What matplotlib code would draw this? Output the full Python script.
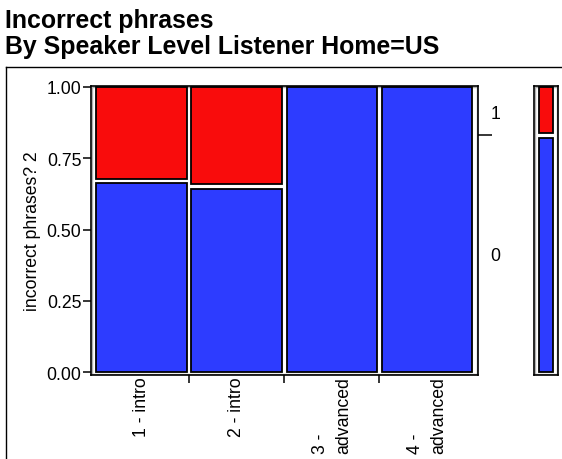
#!/usr/bin/env python3
"""mosaic plot: incorrect phrases by speaker level"""

import matplotlib
matplotlib.use("Agg")
import matplotlib.pyplot as plt
from matplotlib.patches import Rectangle
from matplotlib.lines import Line2D

# data
levels = ["1 - intro", "2 - intro", "3 -\nadvanced", "4 -\nadvanced"]
share_no = [0.67, 0.65, 1.00, 1.00]   # response 0 (blue)
responses = ["0", "1"]

RED = "#F90C0C"
BLUE = "#2D3CFF"
W, H = 562, 460
FS = 12.7


def cell(ax, x0, x1, y0, y1, color):
    ax.add_patch(Rectangle((x0, y0), x1 - x0, y1 - y0, facecolor=color,
                           edgecolor="black", lw=1.3, zorder=3))


def main():
    plt.rcParams["font.family"] = ["Liberation Sans", "DejaVu Sans"]
    fig = plt.figure(figsize=(W / 100, H / 100), dpi=100)

    # main mosaic axes
    ax = fig.add_axes([91 / W, 1 - 376 / H, (478 - 91) / W, (376 - 87) / H])
    ax.set_xlim(-0.008, 1.009)
    ax.set_ylim(-0.0105, 1.0035)

    n = len(levels)
    gx, gy = 0.012, 0.016
    for i, p in enumerate(share_no):
        x0 = i / n + gx / 2
        x1 = (i + 1) / n - gx / 2
        if p >= 1:
            cell(ax, x0, x1, 0, 1, BLUE)
        else:
            cell(ax, x0, x1, 0, p - gy / 2, BLUE)
            cell(ax, x0, x1, p + gy / 2, 1, RED)

    ax.add_patch(Rectangle((0.003, 0.003), 0.994, 0.994, transform=ax.transAxes,
                           fill=False, edgecolor="#b0b0b0", lw=1.0, zorder=2))
    for s in ax.spines.values():
        s.set_linewidth(1.2)

    ax.set_yticks([0, 0.25, 0.5, 0.75, 1.0])
    ax.set_yticklabels(["0.00", "0.25", "0.50", "0.75", "1.00"])
    ax.tick_params(axis="y", direction="out", length=6, width=1.1, labelsize=FS, pad=1)
    ax.set_ylabel("incorrect phrases? 2", fontsize=FS, labelpad=4)

    ax.set_xticks([i / n for i in range(1, n)])
    ax.set_xticklabels([])
    ax.set_xticks([(i + 0.5) / n for i in range(n)], minor=True)
    ax.set_xticklabels(levels, minor=True, rotation=90, va="top", ha="center",
                       multialignment="left", fontsize=FS, linespacing=1.5)
    ax.tick_params(axis="x", which="major", direction="out", length=6, width=1.1)
    ax.tick_params(axis="x", which="minor", length=0, pad=1)

    # marginal split on the right side
    overall = sum(share_no) / n
    ax2 = ax.twinx()
    ax2.set_ylim(ax.get_ylim())
    ax2.set_yticks([overall])
    ax2.set_yticklabels([])
    ax2.set_yticks([overall / 2, (overall + 1) / 2], minor=True)
    ax2.set_yticklabels(responses, minor=True, fontsize=FS)
    ax2.tick_params(axis="y", which="major", direction="out", length=10, width=1.1)
    ax2.tick_params(axis="y", which="minor", length=0, pad=9)
    for s in ax2.spines.values():
        s.set_visible(False)

    # side bar with overall proportions
    axs = fig.add_axes([534 / W, 1 - 376 / H, (558 - 534) / W, (376 - 87) / H])
    axs.set_xlim(0, 1)
    axs.set_ylim(ax.get_ylim())
    cell(axs, 0.22, 0.78, 0, overall - gy / 2, BLUE)
    cell(axs, 0.22, 0.78, overall + gy / 2, 1, RED)
    axs.add_patch(Rectangle((0.05, 0.003), 0.9, 0.994, transform=axs.transAxes,
                            fill=False, edgecolor="#b0b0b0", lw=1.0, zorder=2))
    axs.set_xticks([])
    axs.set_yticks([])
    for s in axs.spines.values():
        s.set_linewidth(1.2)

    # titles and outer frame
    fig.text(5 / W, 1 - 28 / H, "Incorrect phrases", fontsize=17.9,
             fontweight="bold", va="baseline", ha="left")
    fig.text(5 / W, 1 - 54 / H, "By Speaker Level Listener Home=US", fontsize=17.9,
             fontweight="bold", va="baseline", ha="left")
    fig.add_artist(Line2D([6 / W, 1.0], [1 - 67.5 / H, 1 - 67.5 / H], color="black", lw=1.0))
    fig.add_artist(Line2D([6 / W, 6 / W], [0, 1 - 67.5 / H], color="black", lw=1.0))

    fig.savefig("out.png", dpi=100)


if __name__ == "__main__":
    main()
